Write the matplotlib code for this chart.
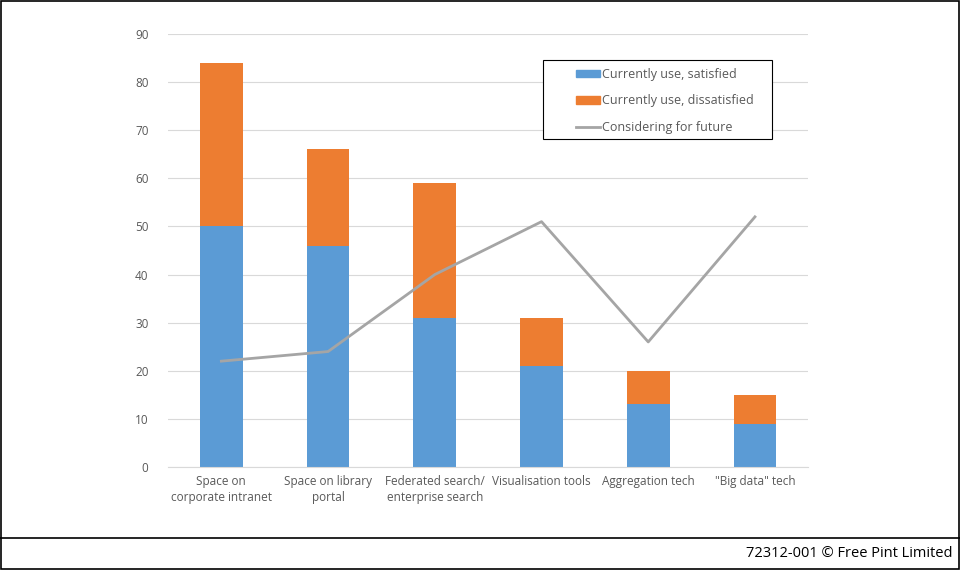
import numpy as np
import matplotlib
matplotlib.use('Agg')
import matplotlib.pyplot as plt
from matplotlib.lines import Line2D
from matplotlib.patches import Rectangle

categories = ['Space on\ncorporate intranet', 'Space on library\nportal',
              'Federated search/\nenterprise search', 'Visualisation tools',
              'Aggregation tech', '"Big data" tech']
satisfied = [50, 46, 31, 21, 13, 9]
dissatisfied = [34, 20, 28, 10, 7, 6]
future = [22, 24, 40, 51, 26, 52]
y_ticks = [0, 10, 20, 30, 40, 50, 60, 70, 80, 90]

plt.rcParams['font.family'] = ['Open Sans', 'DejaVu Sans']

blue = '#5B9BD5'
orange = '#ED7D31'
grey = '#A5A5A5'
text_col = '#595959'

fig = plt.figure(figsize=(9.6, 5.7), dpi=100)
ax = fig.add_axes([0.175, 0.1807, 0.667, 0.7596])

x = np.arange(len(categories))
ax.bar(x, satisfied, width=0.4, color=blue, label='Currently use, satisfied', zorder=2)
ax.bar(x, dissatisfied, width=0.4, bottom=satisfied, color=orange,
       label='Currently use, dissatisfied', zorder=2)
ax.plot(x, future, color=grey, linewidth=2, label='Considering for future', zorder=3)

ax.set_xlim(-0.5, 5.5)
ax.set_ylim(0, 90)
ax.set_yticks(y_ticks)
ax.set_xticks(x)
ax.set_xticklabels(categories, fontsize=8.5, color=text_col, linespacing=1.3)
ax.tick_params(axis='y', labelsize=8.5, labelcolor=text_col, length=0, pad=14)
ax.tick_params(axis='x', length=0, pad=6)
ax.grid(axis='y', color='#D9D9D9', linewidth=0.8, zorder=0)
for s in ['top', 'right', 'left']:
    ax.spines[s].set_visible(False)
ax.spines['bottom'].set_color('#D9D9D9')

# legend: box drawn separately, entries without frame
handles = [Rectangle((0, 0), 1, 1, color=blue), Rectangle((0, 0), 1, 1, color=orange),
           Line2D([0], [0], color=grey, linewidth=2)]
labels = ['Currently use, satisfied', 'Currently use, dissatisfied', 'Considering for future']
leg = ax.legend(handles, labels, loc='upper left', bbox_to_anchor=(0.6375, 0.922),
                fontsize=9, frameon=False, borderpad=0,
                labelspacing=1.08, handlelength=1.9, handleheight=0.55,
                handletextpad=0.15, borderaxespad=0)
leg.set_zorder(5)
for t in leg.get_texts():
    t.set_color(text_col)
ax.add_patch(Rectangle((0.586, 0.758), 0.358, 0.182, transform=ax.transAxes,
                       facecolor='white', edgecolor='black', linewidth=0.8, zorder=4))

# outer frame and footer
fig.patches.append(Rectangle((0.001, 0.002), 0.998, 0.996, transform=fig.transFigure,
                             fill=False, edgecolor='black', linewidth=1.2))
fig.lines.append(Line2D([0, 1], [0.0561, 0.0561], transform=fig.transFigure,
                        color='black', linewidth=1.2))
fig.text(0.992, 0.029, '72312-001 \u00a9 Free Pint Limited', ha='right', va='center',
         fontsize=10.5, color='black')

plt.savefig('out.png', dpi=100)
